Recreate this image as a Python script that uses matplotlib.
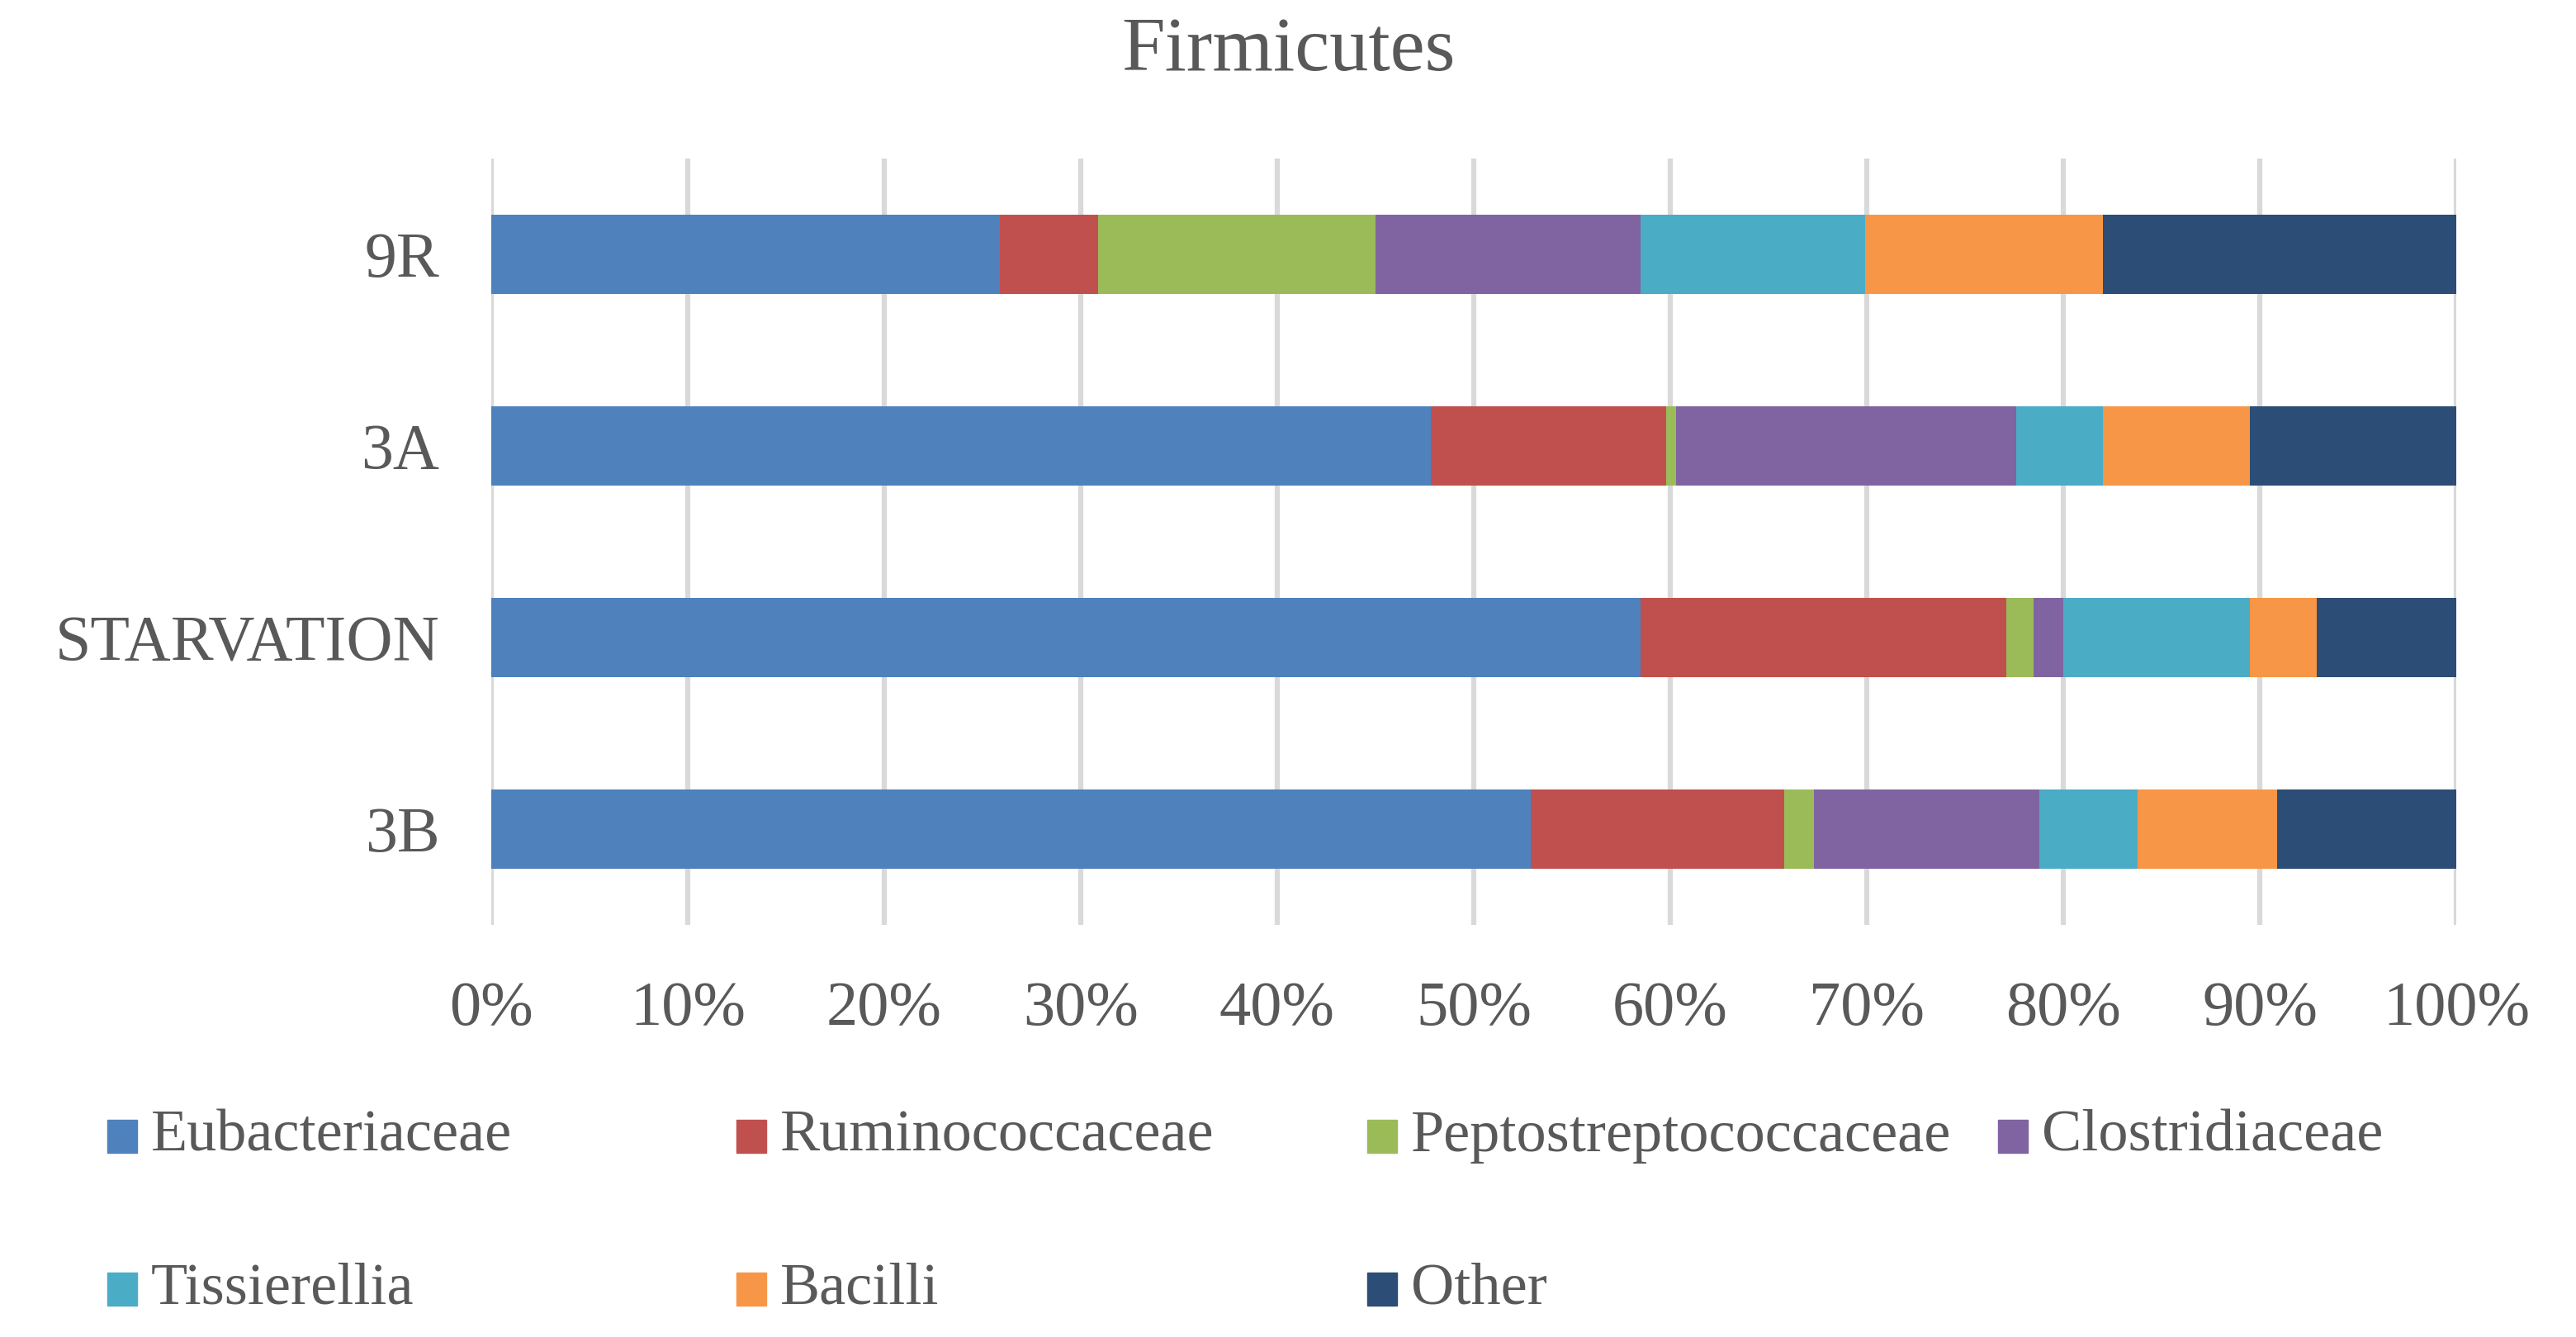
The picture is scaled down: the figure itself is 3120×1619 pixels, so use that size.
import matplotlib.pyplot as plt
from matplotlib.patches import Rectangle
import numpy as np

# samples, bottom to top
samples = ['3B', 'STARVATION', '3A', '9R']

families = ['Eubacteriaceae', 'Ruminococcaceae', 'Peptostreptococcaceae',
            'Clostridiaceae', 'Tissierellia', 'Bacilli', 'Other']
colors = ['#4F81BD', '#C0504D', '#9BBB59', '#8064A2', '#4BACC6', '#F79646', '#2C4D75']

# percentages per family, in the order of samples
eubacteriaceae = [52.9, 58.5, 47.8, 25.9]
ruminococcaceae = [12.9, 18.6, 12.0, 5.0]
peptostreptococcaceae = [1.5, 1.4, 0.5, 14.1]
clostridiaceae = [11.5, 1.5, 17.3, 13.5]
tissierellia = [5.0, 9.5, 4.4, 11.4]
bacilli = [7.1, 3.4, 7.5, 12.1]
other = [9.1, 7.1, 10.5, 18.0]

series = [eubacteriaceae, ruminococcaceae, peptostreptococcaceae,
          clostridiaceae, tissierellia, bacilli, other]

text_color = '#595959'
plt.rcParams['font.family'] = ['Liberation Serif', 'DejaVu Serif']

W, H = 3120, 1619
fig = plt.figure(figsize=(W / 100, H / 100), dpi=100)
ax = fig.add_axes([595 / W, 1 - 1120 / H, (2975 - 595) / W, (1120 - 192) / H])

y = np.arange(len(samples))
left = np.zeros(len(samples))
for vals, name, c in zip(series, families, colors):
    vals = np.array(vals)
    ax.barh(y, vals, left=left, height=0.41, color=c, label=name, zorder=3)
    left += vals

ax.set_xlim(0, 100)
ax.set_ylim(-0.5, len(samples) - 0.5)
ax.set_xticks(np.arange(0, 101, 10))
ax.set_xticklabels([f'{v}%' for v in range(0, 101, 10)])
ax.set_yticks(y)
ax.set_yticklabels(samples)
ax.grid(axis='x', color='#D9D9D9', linewidth=4.5, zorder=0)
ax.tick_params(axis='x', length=0, pad=49, labelsize=55, labelcolor=text_color)
ax.tick_params(axis='y', length=0, pad=45, labelsize=56, labelcolor=text_color)
for s in ax.spines.values():
    s.set_visible(False)

fig.text(0.5, 1 - 62 / H, 'Firmicutes', ha='center', va='center',
         fontsize=68, color=text_color)

# legend, Excel style: 4 equal-width columns, filled row by row
col_x = [130, 892, 1656, 2420]
row_y = [1376, 1561]
box = 40
for i, (name, c) in enumerate(zip(families, colors)):
    cx = col_x[i % 4]
    cy = row_y[i // 4]
    fig.patches.append(Rectangle((cx / W, 1 - (cy + box / 2) / H), 36 / W, box / H,
                                 transform=fig.transFigure, color=c))
    fig.text((cx + 53) / W, 1 - cy / H, name, ha='left', va='center',
             fontsize=52, color=text_color)

fig.savefig('out.png', dpi=100)
